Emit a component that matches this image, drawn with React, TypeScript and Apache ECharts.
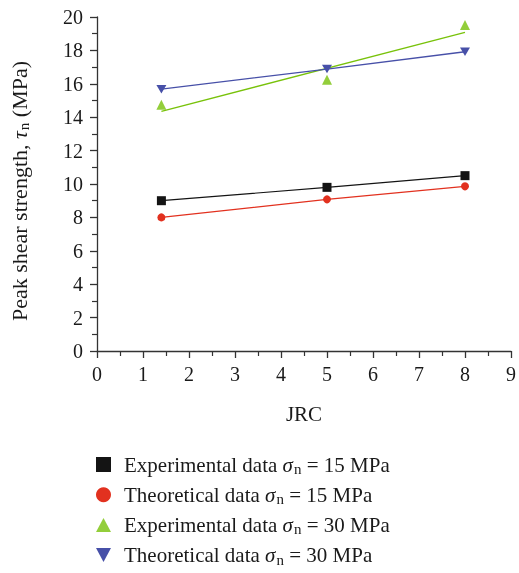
import React, { useEffect, useRef } from "react";
import * as echarts from "echarts";

const jrc = [1.4, 5, 8];
const exp15 = [9.0, 9.8, 10.5];
const theo15 = [8.0, 9.08, 9.86];
const exp30 = [14.75, 16.25, 19.52];
const theo30 = [15.68, 16.88, 17.92];
const fitX = [1.4, 8];
const exp30Fit = [14.35, 19.08];

const names = [
  "Experimental data 15",
  "Theoretical data 15",
  "Experimental data 30",
  "Theoretical data 30",
];
const legendLabels: Record<string, string> = {
  [names[0]]: "{a|Experimental data }{i|σ}{s|n}{a| = 15 MPa}",
  [names[1]]: "{a|Theoretical data }{i|σ}{s|n}{a| = 15 MPa}",
  [names[2]]: "{a|Experimental data }{i|σ}{s|n}{a| = 30 MPa}",
  [names[3]]: "{a|Theoretical data }{i|σ}{s|n}{a| = 30 MPa}",
};

const BLACK = "#141414";
const RED = "#e2311f";
const GREEN = "#78c20a";
const BLUE = "#4750a8";
const FONT = "Liberation Serif";
const TRI_UP = "path://M0 14L7.5 0L15 14Z";
const TRI_DOWN = "path://M0 0L15 0L7.5 14Z";

const pairs = (xs: number[], ys: number[]) => xs.map((x, i) => [x, ys[i]]);

export default function App() {
  const ref = useRef<HTMLDivElement>(null);
  useEffect(() => {
    if (!ref.current) return;
    document.body.style.margin = "0";
    const chart = echarts.init(ref.current, null, { renderer: "svg" });
    const mkRich = (size: number, sub: number, pad: number) => ({
      a: { fontFamily: FONT, fontSize: size, color: "#1a1a1a" },
      i: { fontFamily: FONT, fontSize: size, fontStyle: "italic", color: "#1a1a1a" },
      s: { fontFamily: FONT, fontSize: sub, color: "#1a1a1a", padding: [pad, 0, 0, 1] },
    });
    chart.setOption({
      animation: false,
      grid: { left: 96, right: 5, top: 17, bottom: 222, containLabel: false },
      legend: {
        orient: "vertical",
        left: 96,
        top: 454,
        padding: 0,
        itemWidth: 15,
        itemHeight: 15,
        itemGap: 7.7,
        data: [
          { name: names[0], icon: "rect" },
          { name: names[1], icon: "circle" },
          { name: names[2], icon: TRI_UP },
          { name: names[3], icon: TRI_DOWN },
        ],
        formatter: (n: string) => legendLabels[n],
        textStyle: { fontFamily: FONT, fontSize: 21, padding: [0, 0, 0, 8], rich: mkRich(21, 15, 9) },
      },
      xAxis: {
        type: "value",
        min: 0,
        max: 9,
        interval: 1,
        name: "JRC",
        nameLocation: "middle",
        nameGap: 52,
        nameTextStyle: { fontFamily: FONT, fontSize: 21, color: "#1a1a1a" },
        axisLine: { show: true, onZero: false, lineStyle: { color: "#333", width: 1.3 } },
        axisTick: { show: true, length: 7, lineStyle: { color: "#333", width: 1.3 } },
        minorTick: { show: true, splitNumber: 2, length: 5, lineStyle: { color: "#333", width: 1.2 } },
        axisLabel: { fontFamily: FONT, fontSize: 20, color: "#1a1a1a", margin: 13 },
        splitLine: { show: false },
      },
      yAxis: {
        type: "value",
        min: 0,
        max: 20,
        interval: 2,
        name: "{a|Peak shear strength, }{i|τ}{s|n}{a| (MPa)}",
        nameLocation: "middle",
        nameRotate: 90,
        nameGap: 66,
        nameTextStyle: { rich: mkRich(22, 15, 9), padding: [0, 14, 0, 0] },
        axisLine: { show: true, onZero: false, lineStyle: { color: "#333", width: 1.3 } },
        axisTick: { show: true, length: 7, lineStyle: { color: "#333", width: 1.3 } },
        minorTick: { show: true, splitNumber: 2, length: 5, lineStyle: { color: "#333", width: 1.2 } },
        axisLabel: { fontFamily: FONT, fontSize: 20, color: "#1a1a1a", margin: 14 },
        splitLine: { show: false },
      },
      series: [
        {
          name: names[0],
          type: "line",
          data: pairs(jrc, exp15),
          symbol: "rect",
          symbolSize: 9,
          itemStyle: { color: BLACK },
          lineStyle: { color: BLACK, width: 1.2 },
        },
        {
          name: names[1],
          type: "line",
          data: pairs(jrc, theo15),
          symbol: "circle",
          symbolSize: 8,
          itemStyle: { color: RED },
          lineStyle: { color: RED, width: 1.2 },
        },
        {
          name: "fit30",
          type: "line",
          data: pairs(fitX, exp30Fit),
          showSymbol: false,
          symbol: "none",
          lineStyle: { color: GREEN, width: 1.3 },
        },
        {
          name: names[2],
          type: "scatter",
          data: pairs(jrc, exp30),
          symbol: "triangle",
          symbolSize: 10,
          itemStyle: { color: GREEN },
        },
        {
          name: names[3],
          type: "line",
          data: pairs(jrc, theo30),
          symbol: "path://M0 0L10 0L5 8.5Z",
          symbolSize: [10, 8.5],
          itemStyle: { color: BLUE },
          lineStyle: { color: BLUE, width: 1.3 },
        },
      ],
    });
    return () => chart.dispose();
  }, []);
  return (
    <div
      ref={ref}
      style={{ position: "fixed", left: 0, top: 0, width: 519, height: 573, overflow: "visible" }}
    />
  );
}
